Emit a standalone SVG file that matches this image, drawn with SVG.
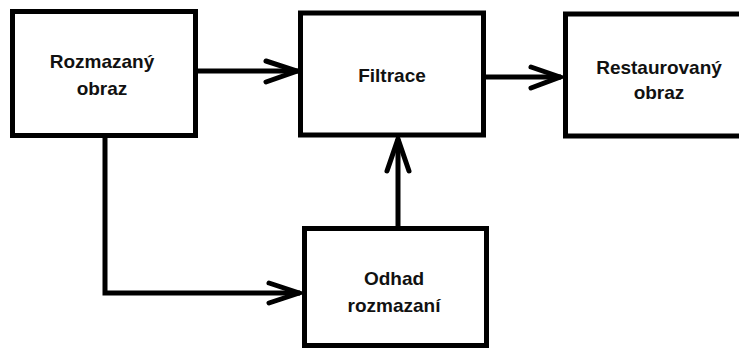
<svg xmlns="http://www.w3.org/2000/svg" width="739" height="350" viewBox="0 0 739 350">
<style>
.box{fill:#fff;stroke:#000;stroke-width:5}
.t{font-family:"Liberation Sans",Arial,sans-serif;font-weight:bold;font-size:19px;fill:#111;text-anchor:middle}
.ln{fill:none;stroke:#000;stroke-width:5}
.ah{fill:none;stroke:#000;stroke-width:5;stroke-linecap:round;stroke-linejoin:miter}
</style>
<rect width="739" height="350" fill="#fff"/>
<g id="connectors">
<line class="ln" x1="197" y1="71" x2="298" y2="71"/>
<polyline class="ah" points="266,61 297,71 266,82"/>
<line class="ln" x1="485" y1="77" x2="561" y2="77"/>
<polyline class="ah" points="531,67 560,77 531,88"/>
<line class="ln" x1="398" y1="226" x2="398" y2="139"/>
<polyline class="ah" points="387,171 398,139 409,171"/>
<polyline class="ln" points="105,137 105,293 300,293"/>
<polyline class="ah" points="269,283 299,293 269,303"/>
</g>
<g id="n1">
<rect class="box" x="12.5" y="11.5" width="183" height="124"/>
<text class="t" x="102" y="68">Rozmazaný</text>
<text class="t" x="102" y="95">obraz</text>
</g>
<g id="n2">
<rect class="box" x="300.5" y="13" width="183" height="122"/>
<text class="t" x="392" y="82">Filtrace</text>
</g>
<g id="n3">
<rect class="box" x="565.5" y="14" width="180" height="122"/>
<text class="t" x="659" y="74">Restaurovaný</text>
<text class="t" x="659" y="99">obraz</text>
</g>
<g id="n4">
<rect class="box" x="304.5" y="228.5" width="182" height="117"/>
<text class="t" x="394" y="285">Odhad</text>
<text class="t" x="394" y="312">rozmazaní</text>
</g>
</svg>
